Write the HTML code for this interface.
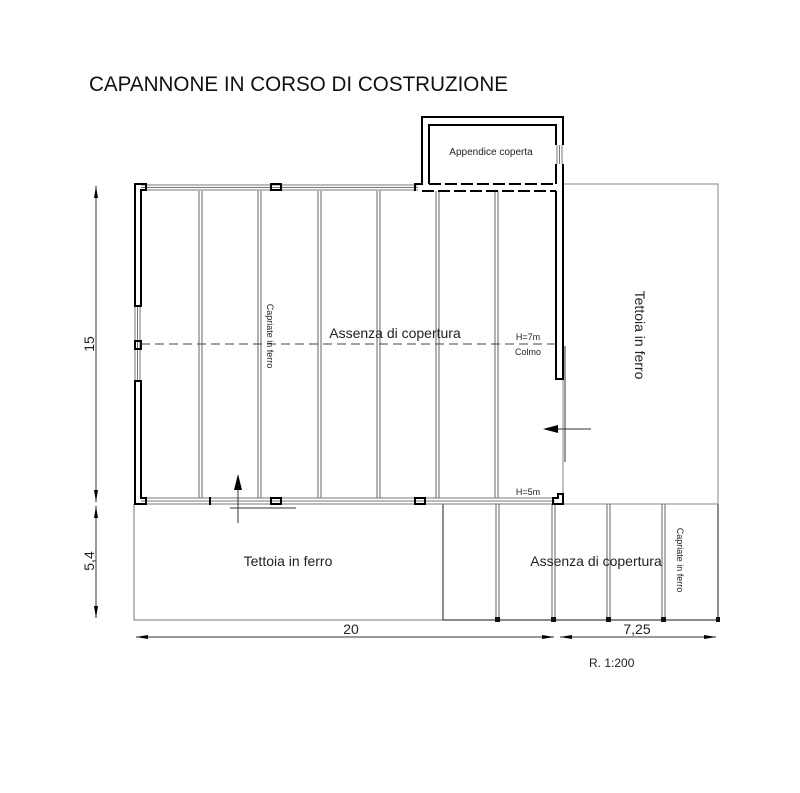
<!DOCTYPE html>
<html><head><meta charset="utf-8"><style>
html,body{margin:0;padding:0;background:#fff;}
svg{display:block;font-family:"Liberation Sans",sans-serif;}
</style></head><body>
<svg width="800" height="793" viewBox="0 0 800 793" xmlns="http://www.w3.org/2000/svg">
<rect width="800" height="793" fill="#fff"/>
<text x="89" y="91" font-size="21" textLength="419" lengthAdjust="spacingAndGlyphs" fill="#111">CAPANNONE IN CORSO DI COSTRUZIONE</text>

<rect x="563" y="184" width="155" height="320" fill="none" stroke="#888" stroke-width="1"/>
<rect x="134" y="504" width="309" height="116" fill="none" stroke="#777" stroke-width="1"/>
<polyline points="443,504 443,620 718,620 718,504" fill="none" stroke="#444" stroke-width="1.2"/>
<line x1="563" y1="504" x2="718" y2="504" stroke="#888" stroke-width="1"/>

<g stroke="#666" stroke-width="1">
<line x1="199" y1="191" x2="199" y2="498"/><line x1="202" y1="191" x2="202" y2="498"/>
<line x1="258" y1="191" x2="258" y2="498"/><line x1="261" y1="191" x2="261" y2="498"/>
<line x1="318" y1="191" x2="318" y2="498"/><line x1="321" y1="191" x2="321" y2="498"/>
<line x1="377" y1="191" x2="377" y2="498"/><line x1="380" y1="191" x2="380" y2="498"/>
<line x1="436" y1="191" x2="436" y2="498"/><line x1="439" y1="191" x2="439" y2="498"/>
<line x1="495" y1="191" x2="495" y2="498"/><line x1="498" y1="191" x2="498" y2="498"/>
<line x1="496" y1="504" x2="496" y2="620"/><line x1="499" y1="504" x2="499" y2="620"/>
<line x1="552" y1="504" x2="552" y2="620"/><line x1="555" y1="504" x2="555" y2="620"/>
<line x1="607" y1="504" x2="607" y2="620"/><line x1="610" y1="504" x2="610" y2="620"/>
<line x1="662" y1="504" x2="662" y2="620"/><line x1="665" y1="504" x2="665" y2="620"/>
</g>
<g fill="#111">
<rect x="495" y="617" width="5" height="5"/><rect x="551" y="617" width="5" height="5"/>
<rect x="606" y="617" width="5" height="5"/><rect x="661" y="617" width="5" height="5"/>
<rect x="716" y="617" width="4" height="5"/>
</g>

<g stroke="#777" stroke-width="1">
<line x1="141" y1="185" x2="418" y2="185"/><line x1="141" y1="187.5" x2="418" y2="187.5"/><line x1="141" y1="190" x2="418" y2="190"/>
<line x1="141" y1="498" x2="555" y2="498"/><line x1="141" y1="501" x2="555" y2="501"/><line x1="141" y1="504" x2="555" y2="504"/>
<line x1="135" y1="306" x2="135" y2="381"/><line x1="137.5" y1="306" x2="137.5" y2="381"/><line x1="140" y1="306" x2="140" y2="381"/>
<line x1="557" y1="145" x2="557" y2="164"/><line x1="559.5" y1="145" x2="559.5" y2="164"/><line x1="562" y1="145" x2="562" y2="164"/>
</g>

<g fill="none" stroke="#000" stroke-width="2">
<path d="M141,306 L135,306 L135,184 L146,184 L146,190 L141,190 Z"/>
<path d="M141,381 L135,381 L135,504 L146,504 L146,498 L141,498 Z"/>
<rect x="135" y="341" width="6" height="8"/>
<rect x="271" y="184" width="10" height="6"/>
<rect x="271" y="498" width="10" height="6"/>
<rect x="415" y="498" width="10" height="6"/>
<path d="M553,504 L563,504 L563,494 L558,494 L558,498 L553,498 Z"/>
<path d="M415,191 L415,184 L422,184 L422,117 L563,117 L563,145"/>
<path d="M429,184 L429,125 L556,125 L556,145"/>
<path d="M563,164 L563,379 L556,379 L556,191"/>
<line x1="556" y1="164" x2="556" y2="184"/>
<line x1="429" y1="184" x2="556" y2="184" stroke-dasharray="12,4"/>
<line x1="422" y1="191" x2="556" y2="191" stroke-dasharray="12,4"/>
</g>
<line x1="210" y1="497" x2="210" y2="505" stroke="#000" stroke-width="2"/>

<line x1="141" y1="344" x2="556" y2="344" stroke="#444" stroke-width="1" stroke-dasharray="9,5"/>
<line x1="565" y1="346" x2="565" y2="462" stroke="#777" stroke-width="1.5"/>
<line x1="545" y1="429" x2="591" y2="429" stroke="#333" stroke-width="1"/>
<polygon points="543,429 558,425 558,433" fill="#000"/>
<line x1="230" y1="508" x2="296" y2="508" stroke="#777" stroke-width="1.5"/>
<line x1="238" y1="476" x2="238" y2="523" stroke="#333" stroke-width="1"/>
<polygon points="238,474 234,490 242,490" fill="#000"/>

<g stroke="#333" stroke-width="1" fill="#000">
<line x1="96" y1="186" x2="96" y2="502"/>
<line x1="96" y1="506" x2="96" y2="618"/>
<line x1="136" y1="637" x2="554" y2="637"/>
<line x1="560" y1="637" x2="716" y2="637"/>
</g>
<g fill="#000">
<polygon points="96,186 94,198 98,198"/><polygon points="96,502 94,490 98,490"/>
<polygon points="96,506 94,518 98,518"/><polygon points="96,618 94,606 98,606"/>
<polygon points="136,637 148,635 148,639"/><polygon points="554,637 542,635 542,639"/>
<polygon points="560,637 572,635 572,639"/><polygon points="716,637 704,635 704,639"/>
</g>
<text x="351" y="634" font-size="14" text-anchor="middle" fill="#222">20</text>
<text x="637" y="634" font-size="14" text-anchor="middle" fill="#222">7,25</text>
<text transform="translate(94,344) rotate(-90)" font-size="14" text-anchor="middle" fill="#222">15</text>
<text transform="translate(94,561) rotate(-90)" font-size="14" text-anchor="middle" fill="#222">5,4</text>
<text x="589" y="667" font-size="12" fill="#222">R. 1:200</text>

<text x="491" y="155" font-size="10" text-anchor="middle" fill="#222">Appendice coperta</text>
<text x="395" y="338" font-size="14" text-anchor="middle" fill="#222">Assenza di copertura</text>
<text x="528" y="340" font-size="9" text-anchor="middle" fill="#222">H=7m</text>
<text x="528" y="355" font-size="9" text-anchor="middle" fill="#222">Colmo</text>
<text x="528" y="495" font-size="9" text-anchor="middle" fill="#222">H=5m</text>
<text transform="translate(267,336) rotate(90)" font-size="9" text-anchor="middle" fill="#222">Capriate in ferro</text>
<text transform="translate(635,335) rotate(90)" font-size="14" text-anchor="middle" fill="#222">Tettoia in ferro</text>
<text x="288" y="566" font-size="14" text-anchor="middle" fill="#222">Tettoia in ferro</text>
<text x="596" y="566" font-size="14" text-anchor="middle" fill="#222">Assenza di copertura</text>
<text transform="translate(677,560) rotate(90)" font-size="9" text-anchor="middle" fill="#222">Capriate in ferro</text>
</svg>
</body></html>
